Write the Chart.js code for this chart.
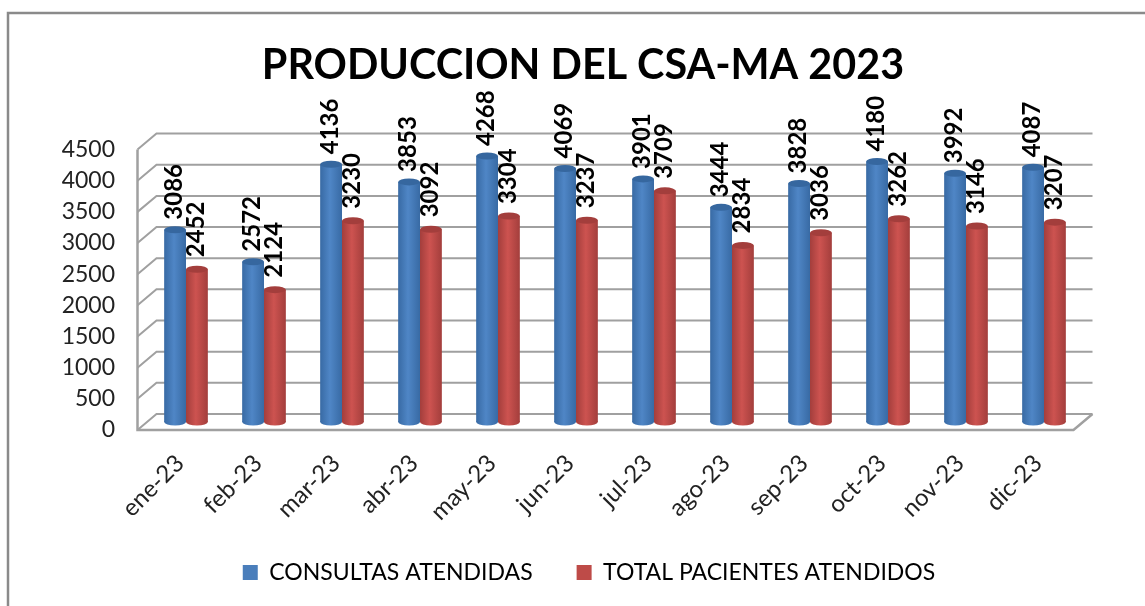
<!DOCTYPE html>
<html>
<head>
<meta charset="utf-8">
<title>Produccion CSA-MA 2023</title>
<script src="https://cdn.jsdelivr.net/npm/chart.js@4/dist/chart.umd.min.js"></script>
<style>
  html, body { margin: 0; padding: 0; background: #fff; }
  #contenedor { position: relative; width: 1145px; height: 606px; }
  canvas { display: block; }
</style>
</head>
<body>
<div id="contenedor"><canvas id="grafico" width="1145" height="606"></canvas></div>
<script>
var meses = ['ene-23', 'feb-23', 'mar-23', 'abr-23', 'may-23', 'jun-23', 'jul-23', 'ago-23', 'sep-23', 'oct-23', 'nov-23', 'dic-23'];
var consultas = [3086, 2572, 4136, 3853, 4268, 4069, 3901, 3444, 3828, 4180, 3992, 4087];
var pacientes = [2452, 2124, 3230, 3092, 3304, 3237, 3709, 2834, 3036, 3262, 3146, 3207];
var ejeMax = 4500;
var ejePaso = 500;

var fuente = 'Lato, Carlito, sans-serif';
var colorGrid = '#a0a0a0';
// profundidad del efecto 3d, mitad hacia cada lado del plano de las barras
var fondoX = 9.5, fondoY = 8;

var tonos = [
    { borde: '#386aa4', luz: '#4f86c6', tapa: '#36679f' },
    { borde: '#a33e3c', luz: '#cd5350', tapa: '#a33e3c' }
];

function rellenoCilindro(ctx) {
    var chart = ctx.chart, x = chart.scales.x, t = tonos[ctx.datasetIndex];
    if (!chart.chartArea || !x || ctx.dataIndex === undefined) return t.luz;
    var ancho = x.width / meses.length * 0.56 / 2;
    var izq = x.getPixelForTick(ctx.dataIndex) + (ctx.datasetIndex - 1) * ancho;
    var g = chart.ctx.createLinearGradient(izq, 0, izq + ancho, 0);
    g.addColorStop(0, t.borde);
    g.addColorStop(0.45, t.luz);
    g.addColorStop(1, t.borde);
    return g;
}

var paredes = {
    id: 'paredes',
    afterLayout: function(chart) {
        // las etiquetas se recortan a la caja de cada eje, hay que ensancharla
        chart.scales.y.left = 10;
        chart.scales.x.bottom = 540;
        // leyenda un poco a la derecha del titulo
        chart.legend.left += 12;
    },
    beforeDraw: function(chart) {
        var c = chart.ctx;
        c.save();
        c.strokeStyle = '#8a8a8a';
        c.lineWidth = 2.5;
        c.beginPath();
        c.moveTo(8, 606);
        c.lineTo(8, 13);
        c.lineTo(1145, 13);
        c.stroke();
        c.restore();
    },
    beforeDatasetsDraw: function(chart) {
        var c = chart.ctx, y = chart.scales.y, a = chart.chartArea;
        var xf = a.left - fondoX, xb = a.left + fondoX;
        var xbDer = a.right + fondoX, xfDer = a.right - fondoX;
        c.save();
        c.strokeStyle = colorGrid;
        c.lineWidth = 2;
        for (var v = 0; v <= ejeMax; v += ejePaso) {
            var p = y.getPixelForValue(v);
            c.beginPath();
            c.moveTo(xf, p + fondoY);
            c.lineTo(xb, p - fondoY);
            c.lineTo(xbDer, p - fondoY);
            c.stroke();
        }
        var p0 = y.getPixelForValue(0), pm = y.getPixelForValue(ejeMax);
        c.lineWidth = 2.5;
        c.beginPath();
        c.moveTo(xf, pm + fondoY);
        c.lineTo(xf, p0 + fondoY);
        c.lineTo(xfDer, p0 + fondoY);
        c.lineTo(xbDer, p0 - fondoY);
        c.stroke();
        c.restore();
    },
    afterDatasetsDraw: function(chart) {
        var c = chart.ctx;
        chart.data.datasets.forEach(function(ds, i) {
            chart.getDatasetMeta(i).data.forEach(function(bar, j) {
                var w = bar.width / 2;
                c.save();
                // base y tapa del cilindro
                c.fillStyle = rellenoCilindro({ chart: chart, datasetIndex: i, dataIndex: j });
                c.beginPath();
                c.ellipse(bar.x, bar.base, w, 3.5, 0, 0, Math.PI * 2);
                c.fill();
                c.fillStyle = tonos[i].tapa;
                c.beginPath();
                c.ellipse(bar.x, bar.y, w, 3.5, 0, 0, Math.PI * 2);
                c.fill();
                c.restore();
            });
        });
        // etiquetas de valor, giradas
        chart.data.datasets.forEach(function(ds, i) {
            chart.getDatasetMeta(i).data.forEach(function(bar, j) {
                c.save();
                c.translate(bar.x - 1, bar.y - (i === 0 ? 10 : 12));
                c.rotate(-Math.PI / 2);
                c.font = 'bold 24px ' + fuente;
                c.fillStyle = '#000';
                c.textAlign = 'left';
                c.textBaseline = 'middle';
                c.fillText(String(ds.data[j]), 0, 0);
                c.restore();
            });
        });
    }
};

new Chart(document.getElementById('grafico'), {
    type: 'bar',
    data: {
        labels: meses,
        datasets: [
            { label: 'CONSULTAS ATENDIDAS', data: consultas, backgroundColor: rellenoCilindro, borderWidth: 0 },
            { label: 'TOTAL PACIENTES ATENDIDOS', data: pacientes, backgroundColor: rellenoCilindro, borderWidth: 0 }
        ]
    },
    options: {
        responsive: false,
        animation: false,
        datasets: { bar: { categoryPercentage: 0.56, barPercentage: 1 } },
        layout: { padding: { top: 41, left: 83, right: 62, bottom: 12 } },
        plugins: {
            tooltip: { enabled: false },
            title: {
                display: true,
                text: 'PRODUCCION DEL CSA-MA 2023',
                color: '#000',
                font: { family: fuente, size: 41.3, weight: 'bold' },
                padding: { top: 0, bottom: 51 }
            },
            legend: {
                position: 'bottom',
                labels: {
                    color: '#222',
                    font: { family: fuente, size: 23 },
                    boxWidth: 15,
                    boxHeight: 15,
                    padding: 44,
                    generateLabels: function(chart) {
                        return chart.data.datasets.map(function(ds, i) {
                            return { text: ds.label, fillStyle: ['#4a7ebb', '#be4b48'][i], lineWidth: 0, datasetIndex: i };
                        });
                    }
                }
            }
        },
        scales: {
            x: {
                grid: { display: false },
                border: { display: false },
                ticks: { color: '#222', font: { family: fuente, size: 24 }, minRotation: 45, maxRotation: 45, padding: 19, labelOffset: -6, autoSkip: false },
                afterFit: function(s) { s.height = 95; }
            },
            y: {
                min: 0,
                max: ejeMax,
                grid: { display: false },
                border: { display: false },
                ticks: {
                    stepSize: ejePaso,
                    color: '#222',
                    font: { family: fuente, size: 23 },
                    padding: 24,
                    labelOffset: 8,
                    callback: function(v) { return String(v); }
                },
                afterFit: function(s) { s.width = 64; }
            }
        }
    },
    plugins: [paredes]
});
</script>
</body>
</html>
